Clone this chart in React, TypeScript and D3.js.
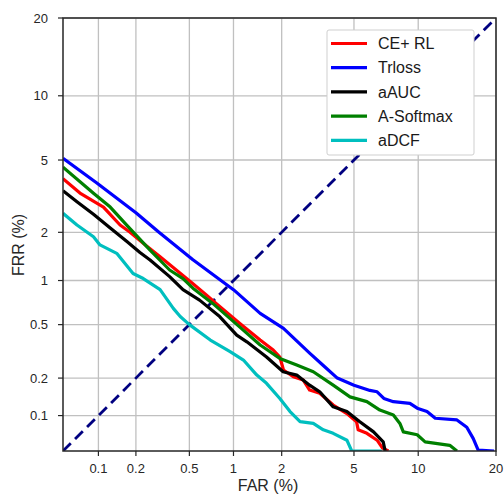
import { useEffect, useRef } from 'react';
import * as d3 from 'd3';

// DET curve, values in percent
const tickValues = [0.1, 0.2, 0.5, 1, 2, 5, 10, 20];
const axisLimits = [0.05, 20];
const seriesNames = ['CE+ RL', 'Trloss', 'aAUC', 'A-Softmax', 'aDCF'];
const seriesColors = ['#ff0000', '#0000ff', '#000000', '#008000', '#00bfbf'];

const ceRl: [number, number][] = [
  [0.05, 4.0], [0.07, 3.35], [0.11, 2.8], [0.15, 2.21], [0.18, 2.0], [0.243, 1.65],
  [0.306, 1.42], [0.533, 0.95], [0.66, 0.8], [0.77, 0.7], [1.1, 0.51], [1.48, 0.387],
  [1.78, 0.327], [1.95, 0.29], [2.05, 0.231], [2.34, 0.205], [2.67, 0.193], [2.9, 0.161],
  [3.3, 0.152], [3.9, 0.122], [4.6, 0.104], [5.15, 0.089], [5.25, 0.076], [5.8, 0.071],
  [6.5, 0.062], [6.9, 0.053], [7.35, 0.05]
];

const trloss: [number, number][] = [
  [0.05, 5.1], [0.097, 3.8], [0.2, 2.6], [0.3, 2.0], [0.53, 1.36], [1.0, 0.87],
  [1.48, 0.6], [2.05, 0.47], [2.9, 0.31], [3.45, 0.25], [4.1, 0.2], [5.0, 0.176],
  [6.0, 0.16], [6.5, 0.156], [7.0, 0.138], [7.75, 0.13], [9.2, 0.126], [9.9, 0.115],
  [10.9, 0.108], [11.8, 0.095], [14.4, 0.092], [15.7, 0.08], [16.6, 0.064],
  [17.3, 0.051], [19.7, 0.05]
];

const aAuc: [number, number][] = [
  [0.05, 3.45], [0.066, 3.0], [0.091, 2.55], [0.125, 2.12], [0.17, 1.76], [0.215, 1.51],
  [0.257, 1.355], [0.36, 1.06], [0.45, 0.87], [0.59, 0.74], [0.81, 0.57], [1.05, 0.42],
  [1.22, 0.376], [1.62, 0.29], [2.04, 0.224], [2.45, 0.211], [2.9, 0.176], [3.3, 0.156],
  [3.9, 0.118], [4.6, 0.108], [5.35, 0.089], [6.25, 0.073], [6.95, 0.06], [7.1, 0.05]
];

const aSoftmax: [number, number][] = [
  [0.05, 4.6], [0.091, 3.34], [0.125, 2.8], [0.17, 2.2], [0.257, 1.56], [0.36, 1.17],
  [0.45, 1.03], [0.53, 0.89], [0.73, 0.7], [1.1, 0.48], [1.48, 0.356], [1.95, 0.283],
  [2.45, 0.252], [3.04, 0.224], [3.9, 0.176], [4.77, 0.142], [5.8, 0.13], [6.7, 0.111],
  [7.75, 0.101], [8.3, 0.086], [8.6, 0.073], [9.9, 0.069], [10.7, 0.06], [13.5, 0.056],
  [14.4, 0.05]
];

const aDcf: [number, number][] = [
  [0.05, 2.58], [0.066, 2.21], [0.091, 1.88], [0.103, 1.68], [0.141, 1.49], [0.19, 1.11],
  [0.228, 1.03], [0.306, 0.87], [0.383, 0.65], [0.43, 0.57], [0.5, 0.5], [0.7, 0.387],
  [0.95, 0.318], [1.16, 0.275], [1.41, 0.211], [1.62, 0.182], [1.95, 0.138], [2.24, 0.108],
  [2.56, 0.089], [3.04, 0.086], [3.45, 0.076], [3.9, 0.071], [4.6, 0.062], [4.87, 0.05],
  [6.84, 0.05]
];

const seriesData = [ceRl, trloss, aAuc, aSoftmax, aDcf];

// inverse normal cdf (Acklam)
function probit(p: number) {
  const a = [-39.69683028665376, 220.9460984245205, -275.9285104469687, 138.357751867269, -30.66479806614716, 2.506628277459239];
  const b = [-54.47609879822406, 161.5858368580409, -155.6989798598866, 66.80131188771972, -13.28068155288572];
  const c = [-0.007784894002430293, -0.3223964580411365, -2.400758277161838, -2.549732953225981, 4.374664141464968, 2.938163982698783];
  const d = [0.007784695709041462, 0.3224671290700398, 2.445134137142996, 3.754408661907416];
  const plow = 0.02425;
  if (p < plow) {
    const q = Math.sqrt(-2 * Math.log(p));
    return (((((c[0] * q + c[1]) * q + c[2]) * q + c[3]) * q + c[4]) * q + c[5]) /
      ((((d[0] * q + d[1]) * q + d[2]) * q + d[3]) * q + 1);
  }
  if (p <= 1 - plow) {
    const q = p - 0.5;
    const r = q * q;
    return ((((((a[0] * r + a[1]) * r + a[2]) * r + a[3]) * r + a[4]) * r + a[5]) * q) /
      (((((b[0] * r + b[1]) * r + b[2]) * r + b[3]) * r + b[4]) * r + 1);
  }
  const q = Math.sqrt(-2 * Math.log(1 - p));
  return -(((((c[0] * q + c[1]) * q + c[2]) * q + c[3]) * q + c[4]) * q + c[5]) /
    ((((d[0] * q + d[1]) * q + d[2]) * q + d[3]) * q + 1);
}

const FONT = 'Arial, "Liberation Sans", sans-serif';

export default function App() {
  const ref = useRef<SVGSVGElement>(null);

  useEffect(() => {
    const svgEl = ref.current;
    if (!svgEl) return;
    const svg = d3.select(svgEl);
    svg.selectAll('*').remove();

    const left = 63, right = 496, top = 18, bottom = 451;

    const xLin = d3.scaleLinear()
      .domain(axisLimits.map((v) => probit(v / 100)))
      .range([left, right]);
    const yLin = d3.scaleLinear()
      .domain(axisLimits.map((v) => probit(v / 100)))
      .range([bottom, top]);
    const x = (v: number) => xLin(probit(v / 100));
    const y = (v: number) => yLin(probit(v / 100));

    svg.append('defs')
      .append('clipPath')
      .attr('id', 'plot-clip')
      .append('rect')
      .attr('x', left)
      .attr('y', top)
      .attr('width', right - left)
      .attr('height', bottom - top);

    // grid
    const grid = svg.append('g').attr('stroke', '#c0c0c0').attr('stroke-width', 1.3);
    grid.selectAll('.gx')
      .data(tickValues)
      .join('line')
      .attr('x1', (d) => x(d)).attr('x2', (d) => x(d))
      .attr('y1', top).attr('y2', bottom);
    grid.selectAll('.gy')
      .data(tickValues)
      .join('line')
      .attr('class', 'gy')
      .attr('y1', (d) => y(d)).attr('y2', (d) => y(d))
      .attr('x1', left).attr('x2', right);

    const plot = svg.append('g').attr('clip-path', 'url(#plot-clip)');

    // equal error rate diagonal
    plot.append('line')
      .attr('x1', x(axisLimits[0])).attr('y1', y(axisLimits[0]))
      .attr('x2', x(axisLimits[1])).attr('y2', y(axisLimits[1]))
      .attr('stroke', '#000080')
      .attr('stroke-width', 2.8)
      .attr('stroke-dasharray', '11,6');

    const line = d3.line<[number, number]>()
      .x((d) => x(d[0]))
      .y((d) => y(d[1]));

    seriesData.forEach((series, i) => {
      plot.append('path')
        .datum(series)
        .attr('d', line)
        .attr('fill', 'none')
        .attr('stroke', seriesColors[i])
        .attr('stroke-width', 3.2)
        .attr('stroke-linejoin', 'round');
    });

    // frame
    svg.append('rect')
      .attr('x', left).attr('y', top)
      .attr('width', right - left).attr('height', bottom - top)
      .attr('fill', 'none')
      .attr('stroke', '#262626')
      .attr('stroke-width', 1.5);

    // ticks
    const ticks = svg.append('g').attr('stroke', '#262626').attr('stroke-width', 1.2);
    ticks.selectAll('.tx')
      .data(tickValues)
      .join('line')
      .attr('x1', (d) => x(d)).attr('x2', (d) => x(d))
      .attr('y1', bottom).attr('y2', bottom + 5);
    ticks.selectAll('.ty')
      .data(tickValues)
      .join('line')
      .attr('class', 'ty')
      .attr('y1', (d) => y(d)).attr('y2', (d) => y(d))
      .attr('x1', left - 5).attr('x2', left);

    svg.append('g')
      .selectAll('text')
      .data(tickValues)
      .join('text')
      .attr('x', (d) => x(d))
      .attr('y', bottom + 17)
      .attr('dy', '0.35em')
      .attr('text-anchor', 'middle')
      .attr('font-family', FONT)
      .attr('font-size', 13)
      .attr('fill', '#262626')
      .text((d) => String(d));

    svg.append('g')
      .selectAll('text')
      .data(tickValues)
      .join('text')
      .attr('x', left - 15)
      .attr('y', (d) => y(d))
      .attr('dy', '0.35em')
      .attr('text-anchor', 'end')
      .attr('font-family', FONT)
      .attr('font-size', 13)
      .attr('fill', '#262626')
      .text((d) => String(d));

    svg.append('text')
      .attr('x', 268)
      .attr('y', 485)
      .attr('dy', '0.35em')
      .attr('text-anchor', 'middle')
      .attr('font-family', FONT)
      .attr('font-size', 16)
      .attr('fill', '#262626')
      .text('FAR (%)');

    svg.append('text')
      .attr('transform', 'translate(18.5,245) rotate(-90)')
      .attr('dy', '0.35em')
      .attr('text-anchor', 'middle')
      .attr('font-family', FONT)
      .attr('font-size', 16)
      .attr('fill', '#262626')
      .text('FRR (%)');

    // legend
    const legend = svg.append('g').attr('transform', 'translate(327,30)');
    legend.append('rect')
      .attr('width', 147)
      .attr('height', 125)
      .attr('rx', 2)
      .attr('fill', '#ffffff')
      .attr('stroke', '#cfcfcf');
    const rows = legend.selectAll('g.row')
      .data(seriesNames)
      .join('g')
      .attr('class', 'row')
      .attr('transform', (_, i) => `translate(0, ${13.5 + i * 24.2})`);
    rows.append('line')
      .attr('x1', 4).attr('x2', 40)
      .attr('stroke', (_, i) => seriesColors[i])
      .attr('stroke-width', 3.2);
    rows.append('text')
      .attr('x', 51)
      .attr('dy', '0.35em')
      .attr('font-family', FONT)
      .attr('font-size', 16)
      .attr('fill', '#1a1a1a')
      .text((d) => d);
  }, []);

  return (
    <svg
      ref={ref}
      width={504}
      height={495}
      style={{ position: 'absolute', left: 0, top: 0, background: '#fff' }}
    />
  );
}
